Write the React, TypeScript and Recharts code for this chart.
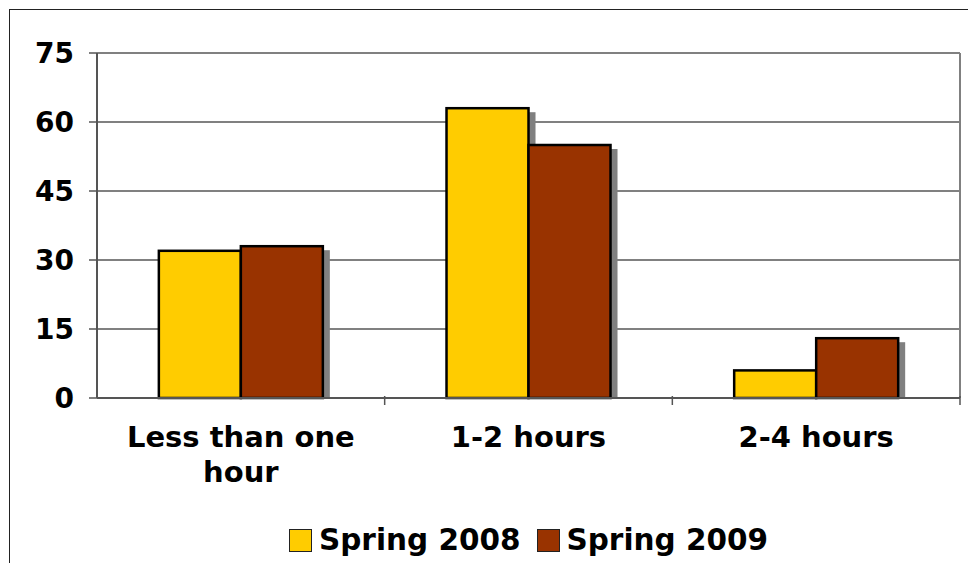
import React from "react";
import { BarChart, Bar, XAxis, YAxis, CartesianGrid, Legend } from "recharts";

const categories = ["Less than one hour", "1-2 hours", "2-4 hours"];
const spring2008 = [32, 63, 6];
const spring2009 = [33, 55, 13];
const yTicks = [0, 15, 30, 45, 60, 75];

const seriesInfo = [
  { key: "spring2008", name: "Spring 2008", color: "#FFCC00" },
  { key: "spring2009", name: "Spring 2009", color: "#993300" },
];

const data = categories.map((cat, i) => ({
  cat,
  spring2008: spring2008[i],
  spring2009: spring2009[i],
}));

const FONT = "'DejaVu Sans', Verdana, sans-serif";

// greedy word wrap by character count, enough for these short labels
function wrapWords(text: string, maxChars: number) {
  const lines: string[] = [];
  let cur = "";
  for (const w of text.split(" ")) {
    const next = cur ? cur + " " + w : w;
    if (next.length > maxChars && cur) {
      lines.push(cur);
      cur = w;
    } else {
      cur = next;
    }
  }
  if (cur) lines.push(cur);
  return lines;
}

function ShadowBar(props: any) {
  const { x, y, width, height, fill } = props;
  if (!height || height <= 0) return null;
  return (
    <g>
      <rect x={x + 7} y={y + 4} width={width} height={Math.max(height - 4, 0)} fill="#808080" />
      <rect x={x} y={y} width={width} height={height} fill={fill} stroke="#000" strokeWidth={2.5} />
    </g>
  );
}

function CatTick(props: any) {
  const { x, y, payload } = props;
  const half = payload.offset || 0;
  const lines = wrapWords(String(payload.value), 14);
  return (
    <g>
      <line x1={x + half} y1={y - 10} x2={x + half} y2={y - 1} stroke="#555" strokeWidth={1.5} />
      <text
        x={x}
        y={y + 41}
        textAnchor="middle"
        fontSize={29}
        fontWeight="bold"
        fontFamily={FONT}
        fill="#000"
      >
        {lines.map((l, i) => (
          <tspan key={i} x={x} dy={i ? 35 : 0}>
            {l}
          </tspan>
        ))}
      </text>
    </g>
  );
}

function LegendBox() {
  return (
    <div
      style={{
        display: "flex",
        justifyContent: "center",
        alignItems: "center",
        fontFamily: FONT,
        fontWeight: "bold",
        fontSize: 29.5,
        color: "#000",
      }}
    >
      {seriesInfo.map((s, i) => (
        <span key={s.key} style={{ display: "flex", alignItems: "center", marginLeft: i ? 16 : 0 }}>
          <span
            style={{
              display: "inline-block",
              width: 23,
              height: 23,
              background: s.color,
              border: "1.5px solid #222",
              marginRight: 7,
              boxSizing: "border-box",
            }}
          />
          {s.name}
        </span>
      ))}
    </div>
  );
}

export default function App() {
  return (
    <div
      style={{
        position: "absolute",
        left: 0,
        top: 0,
        width: 968,
        height: 563,
        overflow: "hidden",
        background: "#fff",
      }}
    >
      <div
        style={{
          position: "absolute",
          left: 9,
          top: 9,
          width: 1100,
          height: 700,
          border: "1.5px solid #222",
        }}
      />
      <div style={{ position: "absolute", left: 0, top: 0 }}>
        <BarChart
          width={968}
          height={563}
          data={data}
          margin={{ top: 53, right: 8, left: 0, bottom: 8 }}
          barCategoryGap="21.5%"
          barGap={0}
        >
          <CartesianGrid
            stroke="#808080"
            strokeWidth={2}
            verticalCoordinatesGenerator={(p: any) => [p.offset.left + p.offset.width]}
          />
          <XAxis
            dataKey="cat"
            height={123}
            tick={<CatTick />}
            tickLine={false}
            axisLine={{ stroke: "#555", strokeWidth: 2 }}
            interval={0}
          />
          <YAxis
            domain={[0, 75]}
            ticks={yTicks}
            width={97}
            tickSize={8}
            tickMargin={15}
            tickLine={{ stroke: "#555", strokeWidth: 1.5 }}
            axisLine={{ stroke: "#555", strokeWidth: 2 }}
            tick={{ fontSize: 28, fontWeight: "bold", fontFamily: FONT, fill: "#000" }}
          />
          <Legend
            verticalAlign="bottom"
            content={<LegendBox />}
            wrapperStyle={{ bottom: 6, left: 97, width: 863 }}
          />
          {seriesInfo.map((s) => (
            <Bar
              key={s.key}
              dataKey={s.key}
              name={s.name}
              fill={s.color}
              shape={<ShadowBar />}
              isAnimationActive={false}
            />
          ))}
        </BarChart>
      </div>
    </div>
  );
}
